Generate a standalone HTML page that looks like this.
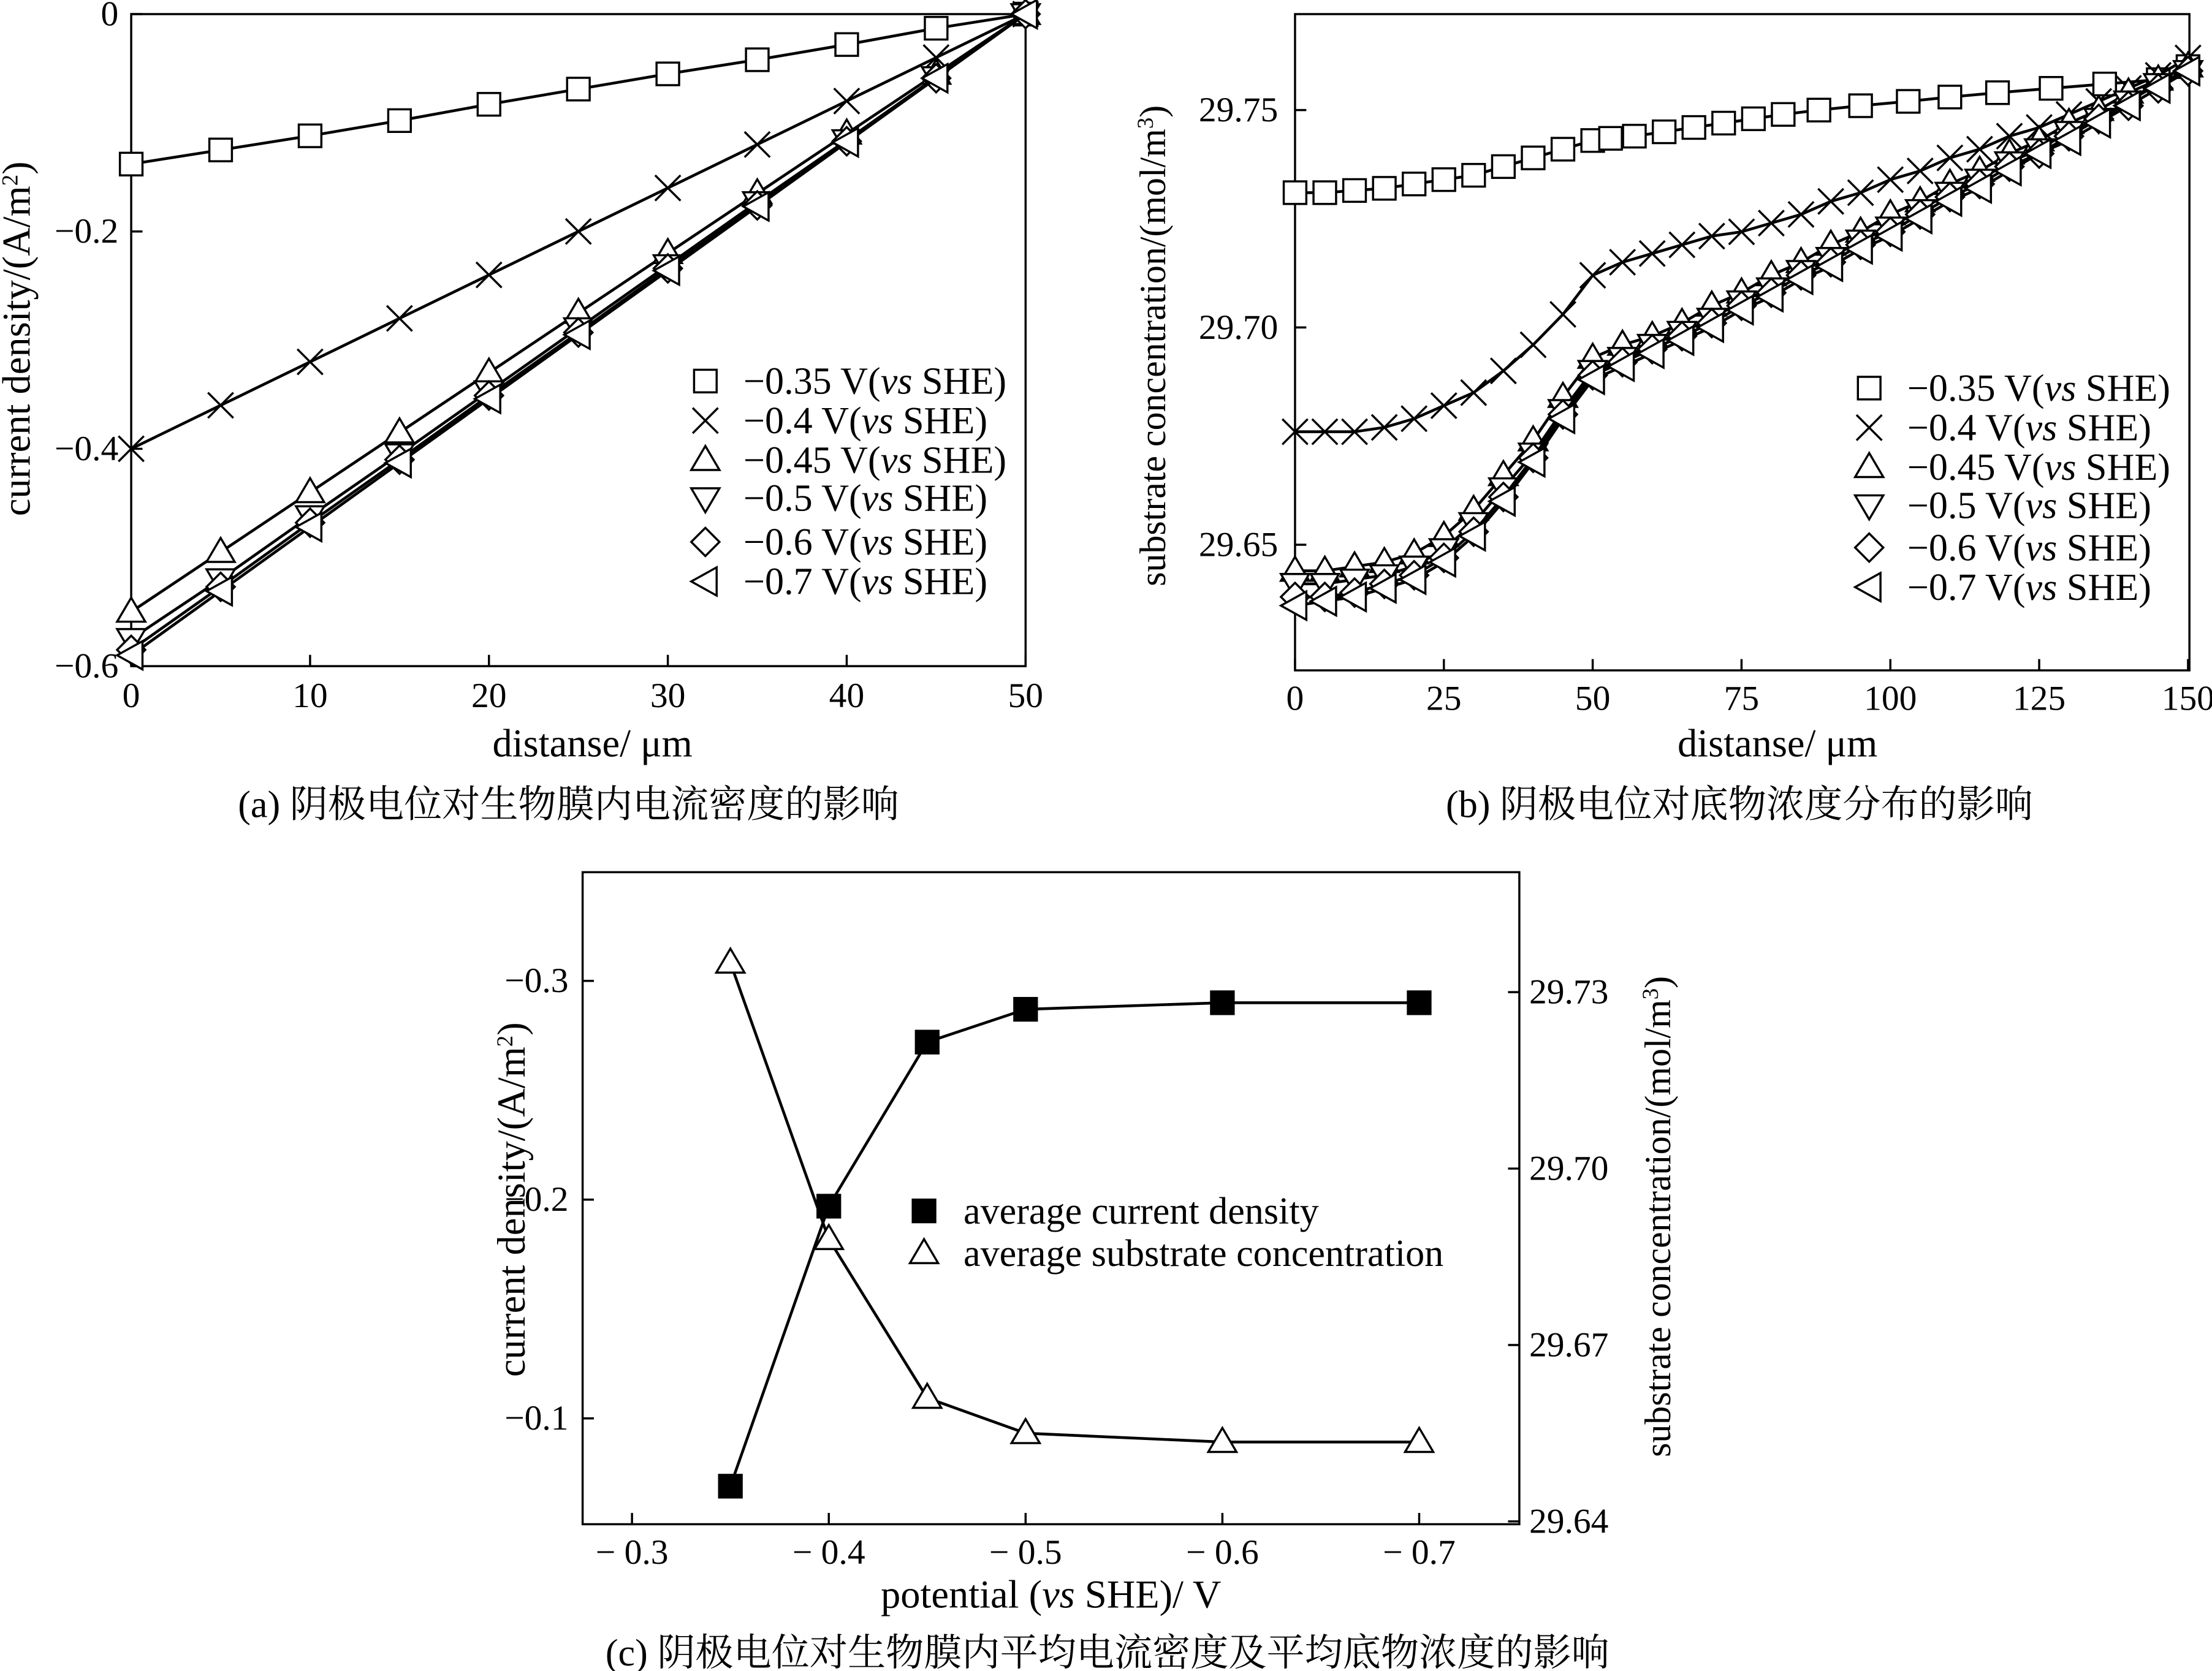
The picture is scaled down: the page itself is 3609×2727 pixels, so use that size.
<!DOCTYPE html>
<html><head><meta charset="utf-8"><style>
html,body{margin:0;padding:0;background:#fff}
svg{display:block}
text{font-family:"Liberation Serif","Noto Serif CJK SC",serif;fill:#000}
</style></head><body>
<svg id="s" width="3609" height="2727" viewBox="0 0 1568 1184" preserveAspectRatio="none" xmlns="http://www.w3.org/2000/svg"></svg>
<script>
// ---- data panel a ----
const aX=[0,5,10,15,20,25,30,35,40,45,50];
const a035=[-0.138,-0.125,-0.112,-0.098,-0.083,-0.069,-0.055,-0.042,-0.028,-0.013,0];
const a040=[-0.40,-0.36,-0.32,-0.28,-0.24,-0.20,-0.16,-0.12,-0.08,-0.04,0];
const a045=[-0.55,-0.495,-0.44,-0.385,-0.33,-0.275,-0.22,-0.165,-0.11,-0.055,0];
const a050=[-0.575,-0.52,-0.462,-0.405,-0.347,-0.289,-0.231,-0.173,-0.116,-0.058,0];
const a060=[-0.585,-0.527,-0.468,-0.41,-0.351,-0.293,-0.234,-0.176,-0.117,-0.059,0];
const a070=[-0.59,-0.531,-0.472,-0.413,-0.354,-0.295,-0.236,-0.177,-0.118,-0.059,0];
const aXTicks=[0,10,20,30,40,50];
const aYTicks=[0,-0.2,-0.4,-0.6];
// ---- data panel b ----
const bX35=[0,5,10,15,20,25,30,35,40,45,50,53,57,62,67,72,77,82,88,95,103,110,118,127,136,145,150];
const b035=[29.731,29.731,29.7315,29.732,29.733,29.734,29.735,29.737,29.739,29.741,29.743,29.7435,29.744,29.745,29.746,29.747,29.748,29.749,29.750,29.751,29.752,29.753,29.754,29.755,29.756,29.757,29.760];
const bX=[0,5,10,15,20,25,30,35,40,45,50,55,60,65,70,75,80,85,90,95,100,105,110,115,120,125,130,135,140,145,150];
const b040=[29.676,29.676,29.676,29.677,29.679,29.682,29.685,29.69,29.696,29.703,29.712,29.715,29.717,29.719,29.721,29.722,29.724,29.726,29.729,29.731,29.734,29.736,29.739,29.741,29.744,29.746,29.749,29.752,29.755,29.758,29.762];
const b045=[29.644,29.644,29.645,29.646,29.648,29.652,29.658,29.666,29.674,29.684,29.693,29.696,29.698,29.701,29.705,29.708,29.712,29.715,29.719,29.722,29.726,29.729,29.733,29.736,29.740,29.743,29.747,29.750,29.754,29.757,29.760];
const b050=[29.641,29.641,29.642,29.643,29.645,29.649,29.655,29.663,29.671,29.681,29.690,29.693,29.696,29.699,29.702,29.706,29.709,29.713,29.716,29.720,29.723,29.727,29.731,29.734,29.738,29.741,29.745,29.748,29.752,29.756,29.759];
const b060=[29.638,29.638,29.639,29.641,29.643,29.647,29.653,29.661,29.670,29.680,29.689,29.692,29.695,29.698,29.701,29.705,29.708,29.712,29.715,29.719,29.722,29.726,29.730,29.733,29.737,29.740,29.744,29.748,29.751,29.755,29.759];
const b070=[29.636,29.637,29.638,29.640,29.642,29.646,29.652,29.660,29.669,29.679,29.688,29.691,29.694,29.697,29.700,29.704,29.707,29.711,29.714,29.718,29.721,29.725,29.729,29.732,29.736,29.740,29.743,29.747,29.751,29.755,29.759];
const bXTicks=[0,25,50,75,100,125,150];
const bYTicks=[29.75,29.70,29.65];
// ---- data panel c ----
const cPot=[-0.35,-0.4,-0.45,-0.5,-0.6,-0.7];
const cCur=[-0.069,-0.197,-0.272,-0.287,-0.290,-0.290];
const cSub=[29.735,29.688,29.661,29.655,29.6535,29.6535];
const cXTicks=[-0.3,-0.4,-0.5,-0.6,-0.7];
const cYTicks=[-0.3,-0.2,-0.1];
const cY2Ticks=[29.73,29.70,29.67,29.64];
const legendLabels=['−0.35 V(','−0.4 V(','−0.45 V(','−0.5 V(','−0.6 V(','−0.7 V('];

const S=document.getElementById('s');const NS='http://www.w3.org/2000/svg';
function el(t,a,p){const e=document.createElementNS(NS,t);for(const k in a)e.setAttribute(k,a[k]);(p||S).appendChild(e);return e;}
function txt(x,y,s,o,p){o=o||{};const e=el('text',Object.assign({x:x,y:y,'font-size':o.fs||25,'text-anchor':o.anchor||'middle'},o.attr||{}),p);e.innerHTML=s;return e;}
function fmt(v){return v<0?'−'+String(Math.abs(v)):String(v);}
function marker(type,x,y,g,fill){const r=9;let e;
 if(type==='sq')e=el('rect',{x:x-r+1,y:y-r+1,width:2*r-2,height:2*r-2,fill:fill||'#fff',stroke:'#000','stroke-width':1.5},g);
 else if(type==='x')e=el('path',{d:`M${x-r} ${y-r}L${x+r} ${y+r}M${x-r} ${y+r}L${x+r} ${y-r}`,stroke:'#000','stroke-width':1.5,fill:'none'},g);
 else if(type==='tu')e=el('polygon',{points:`${x},${y-r-1} ${x-r-1},${y+r-2} ${x+r+1},${y+r-2}`,fill:'#fff',stroke:'#000','stroke-width':1.5},g);
 else if(type==='td')e=el('polygon',{points:`${x},${y+r+1} ${x-r-1},${y-r+2} ${x+r+1},${y-r+2}`,fill:'#fff',stroke:'#000','stroke-width':1.5},g);
 else if(type==='di')e=el('polygon',{points:`${x},${y-r-1} ${x+r+1},${y} ${x},${y+r+1} ${x-r-1},${y}`,fill:'#fff',stroke:'#000','stroke-width':1.5},g);
 else e=el('polygon',{points:`${x-r-1},${y} ${x+r-1},${y-r-1} ${x+r-1},${y+r+1}`,fill:'#fff',stroke:'#000','stroke-width':1.5},g);
 
 return e;}
function series(name,xs,ys,sx,sy,type,fill){const g=el('g',{});
 
 
 el('polyline',{points:xs.map((v,i)=>sx(v)+','+sy(ys[i])).join(' '),fill:'none',stroke:'#000','stroke-width':2},g);
 xs.forEach((v,i)=>marker(type,sx(v),sy(ys[i]),g,fill));}
function box(x0,y0,x1,y1,name){const r=el('rect',{x:x0,y:y0,width:x1-x0,height:y1-y0,fill:'none',stroke:'#000','stroke-width':1.5});
 
 }
const types=['sq','x','tu','td','di','tl'];
function legend(x,ys,name){const g=el('g',{});
 
 
 legendLabels.forEach((l,i)=>{marker(types[i],x,ys[i],g);txt(x+27,ys[i]+9,l+'<tspan font-style="italic">vs</tspan> SHE)',{anchor:'start',fs:27},g);});}

// ---- panel a ----
const ax=v=>93+v*12.68, ay=v=>10-v*770;
box(93,10,727,472,'plot-area-a');
aXTicks.forEach(t=>{el('line',{x1:ax(t),x2:ax(t),y1:472,y2:464,stroke:'#000','stroke-width':1.5});txt(ax(t),501,t);});
aYTicks.forEach(t=>{el('line',{x1:93,x2:101,y1:ay(t),y2:ay(t),stroke:'#000','stroke-width':1.5});txt(84,ay(t)+8,fmt(t),{anchor:'end'});});
[[a035,'sq'],[a040,'x'],[a045,'tu'],[a050,'td'],[a060,'di'],[a070,'tl']].forEach((s,i)=>series('series-a-'+i,aX,s[0],ax,ay,s[1]));
legend(500,[270,298,326,353,384,412],'legend-a');
txt(21,240,'current density/(A/m<tspan baseline-shift="super" font-size="16">2</tspan>)',{fs:28,attr:{transform:'rotate(-90 21 240)'}});
txt(420,536,'distanse/ μm',{fs:28});
txt(403,579,'(a) 阴极电位对生物膜内电流密度的影响',{fs:27});

// ---- panel b ----
const bx=v=>918+v*4.22, by=v=>232-(v-29.70)*3080;
box(918,10,1552,475,'plot-area-b');
bXTicks.forEach(t=>{el('line',{x1:bx(t),x2:bx(t),y1:475,y2:467,stroke:'#000','stroke-width':1.5});txt(bx(t),503,t);});
bYTicks.forEach(t=>{el('line',{x1:918,x2:926,y1:by(t),y2:by(t),stroke:'#000','stroke-width':1.5});txt(906,by(t)+8,t.toFixed(2),{anchor:'end'});});
series('series-b-0',bX35,b035,bx,by,'sq');
[[b040,'x'],[b045,'tu'],[b050,'td'],[b060,'di'],[b070,'tl']].forEach((s,i)=>series('series-b-'+(i+1),bX,s[0],bx,by,s[1]));
legend(1325,[275,303,331,358,388,416],'legend-b');
txt(826,245,'substrate concentration/(mol/m<tspan baseline-shift="super" font-size="16">3</tspan>)',{fs:26,attr:{transform:'rotate(-90 826 245)'}});
txt(1260,536,'distanse/ μm',{fs:28});
txt(1233,579,'(b) 阴极电位对底物浓度分布的影响',{fs:27});

// ---- panel c ----
const cx=v=>448+(-v-0.3)*1395, cy=v=>850-(-v-0.2)*1550, cy2=v=>828-(v-29.70)*4167;
box(413,618,1077,1080,'plot-area-c');
cXTicks.forEach(t=>{el('line',{x1:cx(t),x2:cx(t),y1:1080,y2:1072,stroke:'#000','stroke-width':1.5});txt(cx(t),1108,'− '+Math.abs(t).toFixed(1));});
cYTicks.forEach(t=>{el('line',{x1:413,x2:421,y1:cy(t),y2:cy(t),stroke:'#000','stroke-width':1.5});txt(403,cy(t)+8,'−'+Math.abs(t).toFixed(1),{anchor:'end'});});
cY2Ticks.forEach(t=>{el('line',{x1:1077,x2:1069,y1:cy2(t),y2:cy2(t),stroke:'#000','stroke-width':1.5});txt(1084,cy2(t)+8,t.toFixed(2),{anchor:'start'});});
series('series-current',cPot,cCur,cx,cy,'sq','#000');
series('series-substrate',cPot,cSub,cx,cy2,'tu');
const lg=el('g',{});


marker('sq',655,858,lg,'#000');txt(683,867,'average current density',{anchor:'start',fs:27},lg);
marker('tu',655,888,lg);txt(683,897,'average substrate concentration',{anchor:'start',fs:27},lg);
txt(372,850,'current density/(A/m<tspan baseline-shift="super" font-size="16">2</tspan>)',{fs:28,attr:{transform:'rotate(-90 372 850)'}});
txt(1184,862,'substrate concentration/(mol/m<tspan baseline-shift="super" font-size="16">3</tspan>)',{fs:26,attr:{transform:'rotate(-90 1184 862)'}});
txt(745,1139,'potential (<tspan font-style="italic">vs</tspan> SHE)/ V',{fs:28});
txt(785,1180,'(c) 阴极电位对生物膜内平均电流密度及平均底物浓度的影响',{fs:27});
</script>
</body></html>
